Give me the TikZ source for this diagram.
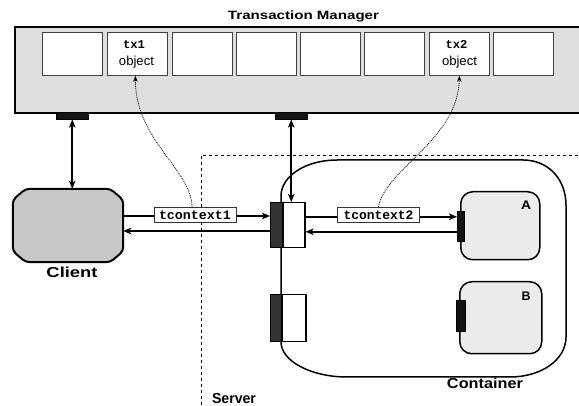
\documentclass[tikz,border=0pt]{standalone}
\usepackage{fontspec}
\setmainfont{Liberation Sans}
\setmonofont{Liberation Mono}
\usetikzlibrary{arrows.meta,calc}
% scale a piece of text to a given width, keeping its height
\newcommand\fitw[2]{\resizebox{#1}{\height}{#2}}

\begin{document}
\begin{tikzpicture}[x=1pt,y=-1pt,
  >={Stealth[length=8pt,width=6.5pt,inset=2pt]},
  link/.style={line width=1.6pt},
  hint/.style={line width=0.75pt, dash pattern=on 1pt off 0.9pt,
    -{Stealth[length=6pt,width=4.5pt]}},
  slot/.style={draw=black!75, line width=0.8pt, fill=white,
    minimum width=60pt, minimum height=43pt, inner sep=0pt},
  tag/.style={draw=black!80, line width=0.8pt, fill=white,
    minimum width=82pt, minimum height=15pt, inner sep=0pt,
    font=\fontsize{13}{13}\selectfont\ttfamily\bfseries},
  caption/.style={font=\fontsize{14.5}{14.5}\selectfont\bfseries, inner sep=0pt, anchor=base},
  slottext/.style={font=\fontsize{13}{13}\selectfont, inner sep=0pt, anchor=base},
  slotcode/.style={font=\fontsize{12}{12}\selectfont\ttfamily\bfseries, inner sep=0pt, anchor=base},
  portdark/.style={draw=black, line width=1.3pt, fill=black!80, inner sep=0pt, anchor=north west},
  portwhite/.style={draw=black, line width=1.5pt, fill=white, inner sep=0pt, anchor=north west},
  plug/.style={fill=black!92, draw=black, line width=0.5pt, inner sep=0pt, anchor=north west},
  comp/.style={draw=black, line width=1.5pt, fill=black!8, rounded corners=12pt,
    inner sep=0pt, anchor=north west}
]
\useasboundingbox (0,0) rectangle (579,406);

% server boundary
\draw[line width=0.8pt, dash pattern=on 3.5pt off 2.5pt] (590,155) -- (201,155) -- (201,412);

% container outline
\draw[line width=1.5pt]
  (281,196) -- (281,342)
  .. controls (281,361) and (311,377) .. (347,377)
  -- (510,377)
  .. controls (541,377) and (566,360) .. (566,337)
  -- (566,205)
  .. controls (566,180) and (549,160) .. (523,160)
  -- (337,160)
  .. controls (306,160) and (281,176) .. (281,196);

% transaction manager
\path[fill=black!13] (15,27) rectangle (600,113);
\draw[line width=2pt] (600,27) -- (15,27) -- (15,113) -- (600,113);
\node[caption, font=\fontsize{12}{12}\selectfont\bfseries] (tmtitle) at (303.5,19.5)
  {\fitw{151pt}{Transaction Manager}};
\foreach \x [count=\i] in {42,107,172,236,300,364,429,493}
  \node[slot, anchor=north west] (s\i) at (\x,32) {};
\node[slotcode] (tx1) at (134,49) {\fitw{22pt}{tx1}};
\node[slottext] (ob1) at (136.5,66) {\fitw{35pt}{object}};
\node[slotcode] (tx2) at (456.5,49) {\fitw{22pt}{tx2}};
\node[slottext] (ob2) at (459.5,66) {\fitw{35pt}{object}};
\node[plug, minimum width=32pt, minimum height=7pt] (tmL) at (56,112) {};
\node[plug, minimum width=32pt, minimum height=7pt] (tmM) at (275,112) {};

% client
\node[minimum width=110pt, minimum height=73pt, inner sep=0pt] (client) at (68,225.5) {};
\draw[line width=2pt, fill=black!22, rounded corners=4pt]
  ($(client.north west)+(13,0)$) -- ($(client.north east)+(-13,0)$)
  -- ($(client.north east)+(0,11)$) -- ($(client.south east)+(0,-11)$)
  -- ($(client.south east)+(-13,0)$) -- ($(client.south west)+(13,0)$)
  -- ($(client.south west)+(0,-11)$) -- ($(client.north west)+(0,11)$) -- cycle;
\node[caption] (clientlbl) at (72,277.5) {\fitw{51pt}{Client}};

% container ports
\node[portwhite, minimum width=22pt, minimum height=45pt] (p1w) at (282,202) {};
\node[portdark, minimum width=12pt, minimum height=45pt] (p1d) at (270,202) {};
\node[portwhite, minimum width=24pt, minimum height=47pt] (p2w) at (281,294) {};
\node[portdark, minimum width=11pt, minimum height=47pt] (p2d) at (270,294) {};

% components
\node[comp, minimum width=79pt, minimum height=68pt] (A) at (460,191) {};
\node[caption, font=\fontsize{12.5}{12.5}\selectfont\bfseries] (Albl) at (526,210) {\fitw{10pt}{A}};
\node[plug, minimum width=7pt, minimum height=30pt] (pa) at (457,211) {};
\node[comp, minimum width=82pt, minimum height=72pt] (B) at (459,281) {};
\node[caption, font=\fontsize{12.5}{12.5}\selectfont\bfseries] (Blbl) at (526,300.5) {\fitw{9pt}{B}};
\node[plug, minimum width=9pt, minimum height=31pt] (pb) at (456,300) {};

\node[caption] (contlbl) at (485,388.5) {\fitw{76pt}{Container}};
\node[caption] (srvlbl) at (234,403) {\fitw{44pt}{Server}};

% connectors
\draw[link,<->] (tmL.south) -- (tmL.south |- client.north);
\draw[link,<->] (tmM.south) -- (tmM.south |- p1w.north);
\draw[link,->] ([yshift=9.5pt]client.east) -- ([yshift=9.5pt]client.east -| p1d.west);
\draw[link,<-] ([yshift=-5.5pt]client.east) -- ([yshift=-5.5pt]client.east -| p1d.west);
\draw[link,->] ([yshift=8.5pt]p1w.east) -- ([yshift=8.5pt]p1w.east -| pa.west);
\draw[link,<-] ([yshift=-6.5pt]p1w.east) -- ([yshift=-6.5pt]p1w.east -| pa.west);

% context labels and their links to the transaction objects
\node[tag] (t1) at (195,215) {\fitw{72pt}{tcontext1}};
\node[tag] (t2) at (378.5,215) {\fitw{70pt}{tcontext2}};
\draw[hint] ([xshift=-3pt]t1.north) .. controls (192,170) and (135,140) .. ([xshift=-2pt]s2.south);
\draw[hint] (t2.north) .. controls (384,170) and (458,140) .. (s7.south);
\end{tikzpicture}
\end{document}
